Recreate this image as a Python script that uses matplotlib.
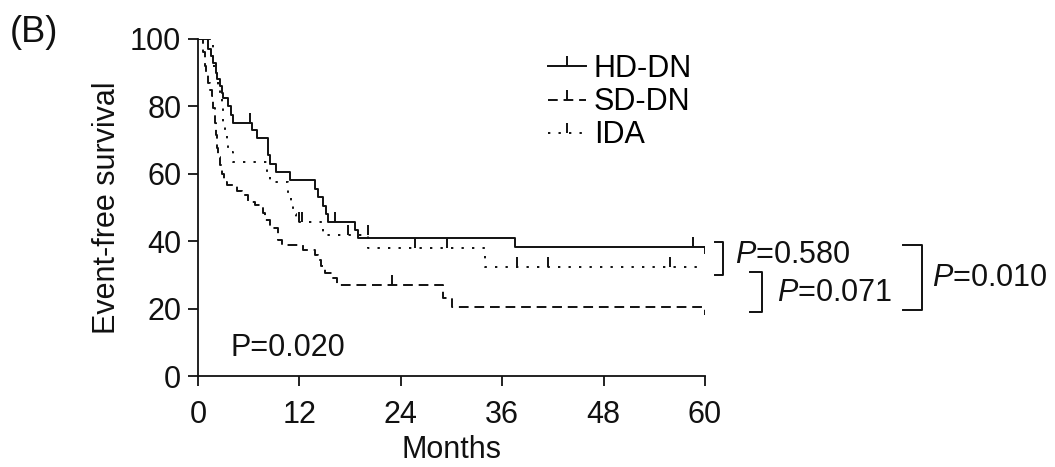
import matplotlib
matplotlib.use("Agg")
import matplotlib.pyplot as plt
from matplotlib.lines import Line2D
from matplotlib.markers import TICKUP

plt.rcParams['font.family'] = ['Liberation Sans', 'DejaVu Sans']
plt.rcParams['mathtext.fontset'] = 'custom'
plt.rcParams['mathtext.rm'] = 'Liberation Sans'
plt.rcParams['mathtext.it'] = 'Liberation Sans:italic'

# Kaplan-Meier step curves (month, survival after the step)
hd_t = [0, 1.2, 1.5, 1.8, 2.1, 2.3, 2.6, 2.8, 3.0, 3.5, 3.9, 4.2, 6.4, 7.0,
        8.3, 8.5, 9.2, 10.9, 13.8, 14.2, 14.8, 15.1, 15.4, 18.6, 18.9, 37.5, 60]
hd_s = [100, 97, 95, 93, 90, 88, 86, 84, 82.5, 80, 77.5, 75, 73, 70.6,
        65.5, 63, 60.5, 58.2, 55.5, 53, 50.5, 48, 45.7, 43.3, 41, 38.4, 36.5]
hd_cens_t = [6.1, 16.2, 58.6]
hd_cens_s = [75, 45.7, 38.4]

sd_t = [0, 0.6, 0.8, 1.0, 1.2, 1.4, 1.6, 1.8, 2.0, 2.1, 2.2, 2.4, 2.6, 2.8,
        3.1, 3.4, 4.6, 5.2, 5.9, 6.7, 7.7, 7.9, 8.5, 9.5, 9.9, 12.4, 13.8,
        14.2, 14.6, 15.0, 15.8, 16.5, 29.0, 30.0, 60]
sd_s = [100, 96, 92, 89.5, 87, 85, 83, 79.5, 75, 71.5, 67.6, 65, 62.5, 60,
        57.6, 56.7, 55, 53.7, 51.6, 50.7, 48.5, 46.3, 44, 40.4, 39, 37.4, 36,
        34.4, 32.5, 30.5, 29, 27, 23, 20.5, 18]
sd_cens_t = [23.0]
sd_cens_s = [27]

ida_t = [0, 1.8, 2.2, 2.4, 2.6, 2.8, 3.0, 3.2, 3.4, 3.5, 4.1, 8.2, 8.5,
         10.7, 11.0, 11.3, 11.6, 14.8, 20.1, 34.0, 60]
ida_s = [100, 92, 88, 85.5, 82.5, 80, 75.4, 72, 69.4, 66.5, 63.5, 60, 57.6,
         54, 51, 48, 45.7, 41.8, 38, 32.4, 32.4]
ida_cens_t = [0.8, 12.0, 12.3, 17.8, 20.1, 25.7, 29.5, 37.7, 41.4, 55.9]
ida_cens_s = [100, 45.7, 45.7, 41.8, 41.8, 38, 38, 32.4, 32.4, 32.4]

groups = ["HD-DN", "SD-DN", "IDA"]
xticks = [0, 12, 24, 36, 48, 60]
yticks = [0, 20, 40, 60, 80, 100]

FS = 22
LW = 1.4
INK = "#111111"
styles = {"HD-DN": "-", "SD-DN": (0, (5, 3)), "IDA": (0, (1.2, 4.2))}

fig = plt.figure(figsize=(10.55, 4.67), dpi=100)
ax = fig.add_axes([198 / 1055, 1 - 376 / 467, 507 / 1055, 337 / 467])

curves = [(hd_t, hd_s, hd_cens_t, hd_cens_s),
          (sd_t, sd_s, sd_cens_t, sd_cens_s),
          (ida_t, ida_s, ida_cens_t, ida_cens_s)]

for name, (t, s, ct, cs) in zip(groups, curves):
    ax.step(t, s, where="post", color=INK, lw=LW, linestyle=styles[name])
    ax.plot(ct, cs, linestyle="none", marker=TICKUP, markersize=7,
            mew=LW, color=INK)

ax.set_xlim(0, 60)
ax.set_ylim(0, 100)
ax.set_xticks(xticks)
ax.set_yticks(yticks)
for side in ["top", "right"]:
    ax.spines[side].set_visible(False)
for side in ["left", "bottom"]:
    ax.spines[side].set_linewidth(1.3)
    ax.spines[side].set_color(INK)
ax.tick_params(direction="out", length=7, width=1.3, labelsize=FS,
               colors=INK, pad=5)
ax.tick_params(axis="x", pad=10)
ax.set_xlabel("Months", fontsize=FS, labelpad=4, color=INK)
ax.set_ylabel("Event-free survival", fontsize=FS, labelpad=6, color=INK)

# legend with censoring tick on each sample line
handles = [Line2D([0], [0], color=INK, lw=LW, linestyle=styles[g],
                  marker=TICKUP, markersize=7, mew=LW) for g in groups]
ax.legend(handles, groups, loc="upper left", bbox_to_anchor=(0.69, 0.955),
          frameon=False, fontsize=FS, handlelength=1.25, handletextpad=0.25,
          labelspacing=0.1, borderpad=0, borderaxespad=0)

ax.text(3.8, 8.3, "P=0.020", fontsize=FS, va="center", color=INK)
fig.text(10 / 1055, 1 - 32 / 467, "(B)", fontsize=26, va="center", color=INK)

# pairwise comparison brackets (x_left, x_right, y_top, y_bottom, text x, text y, label)
brackets = [(61.2, 62.1, 39.8, 30.0, 63.5, 35.9, "$P$=0.580"),
            (65.3, 66.7, 30.9, 19.0, 68.5, 24.6, "$P$=0.071"),
            (83.4, 85.7, 38.9, 19.6, 86.9, 29.1, "$P$=0.010")]
for x0, x1, y0, y1, tx, ty, lab in brackets:
    ax.plot([x0, x1, x1, x0], [y0, y0, y1, y1], color=INK, lw=LW,
            clip_on=False)
    ax.text(tx, ty, lab, fontsize=FS, va="center", color=INK, clip_on=False)

fig.savefig("out.png", dpi=100)
